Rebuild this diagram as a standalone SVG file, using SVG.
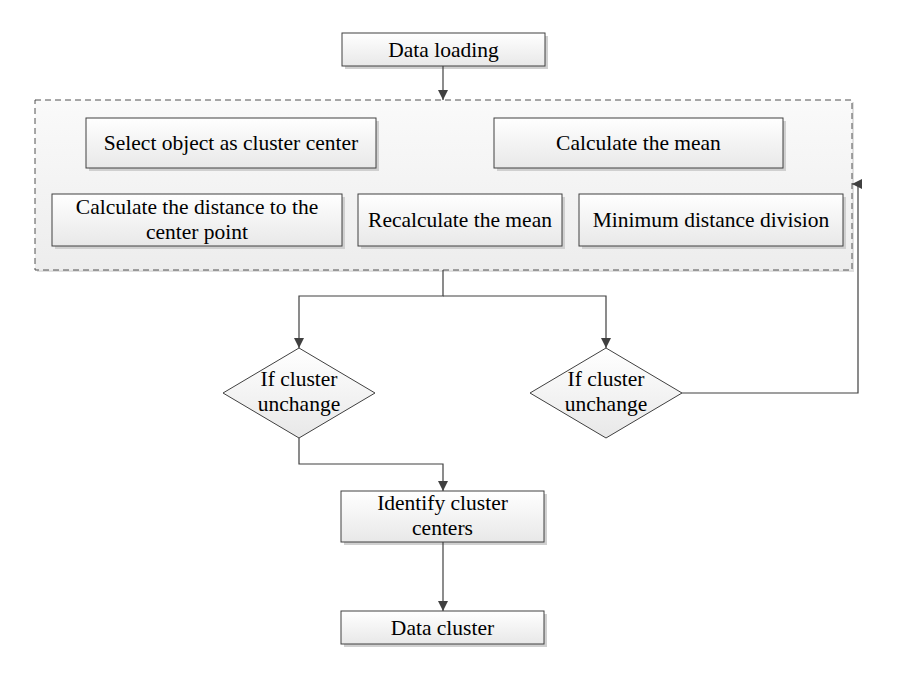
<svg xmlns="http://www.w3.org/2000/svg" width="914" height="700" viewBox="0 0 914 700">
<defs>
<linearGradient id="g" x1="0" y1="0" x2="0" y2="1">
<stop offset="0" stop-color="#ffffff"/>
<stop offset="1" stop-color="#e8e8e8"/>
</linearGradient>
<linearGradient id="gc" x1="0" y1="0" x2="0" y2="1">
<stop offset="0" stop-color="#fafafa"/>
<stop offset="1" stop-color="#ededed"/>
</linearGradient>
<marker id="arr" viewBox="0 0 10 10" refX="10" refY="5" markerWidth="10" markerHeight="10" markerUnits="userSpaceOnUse" orient="auto">
<path d="M0,0 L10,5 L0,10 z" fill="#404040"/>
</marker>
</defs>
<style>
.box{fill:url(#g);stroke:#404040;stroke-width:1}
.sh{fill:#d0d0d0}
.t{font-family:"Liberation Serif","Times New Roman",serif;font-size:21.5px;fill:#000;text-anchor:middle}
.c{fill:none;stroke:#404040;stroke-width:1.2}
</style>
<rect width="914" height="700" fill="#fff"/>
<g id="container">
<rect x="37" y="102" width="817" height="170" fill="#e0e0e0"/>
<rect x="35" y="100" width="817" height="170" fill="url(#gc)" stroke="#505050" stroke-width="1" stroke-dasharray="6,4"/>
</g>
<g id="n-data-loading">
<rect class="sh" x="345" y="36" width="203" height="33"/>
<rect class="box" x="342" y="33" width="203" height="33"/>
<text class="t" x="443.5" y="57">Data loading</text>
</g>
<g id="n-select">
<rect class="sh" x="89" y="121" width="290" height="50"/>
<rect class="box" x="86" y="118" width="290" height="50"/>
<text class="t" x="231" y="150">Select object as cluster center</text>
</g>
<g id="n-calc-mean">
<rect class="sh" x="497" y="121" width="289" height="50"/>
<rect class="box" x="494" y="118" width="289" height="50"/>
<text class="t" x="638.5" y="150">Calculate the mean</text>
</g>
<g id="n-calc-dist">
<rect class="sh" x="55" y="197" width="290" height="52"/>
<rect class="box" x="52" y="194" width="290" height="52"/>
<text class="t" x="197" y="214">Calculate the distance to the</text>
<text class="t" x="197" y="239">center point</text>
</g>
<g id="n-recalc">
<rect class="sh" x="361" y="197" width="204" height="52"/>
<rect class="box" x="358" y="194" width="204" height="52"/>
<text class="t" x="460" y="227">Recalculate the mean</text>
</g>
<g id="n-min">
<rect class="sh" x="582" y="197" width="264" height="52"/>
<rect class="box" x="579" y="194" width="264" height="52"/>
<text class="t" x="711" y="227">Minimum distance division</text>
</g>
<g id="n-if1">
<polygon class="box" points="299,348 375,393 299,438 223,393"/>
<text class="t" x="299" y="386">If cluster</text>
<text class="t" x="299" y="411">unchange</text>
</g>
<g id="n-if2">
<polygon class="box" points="606,348 682,393 606,438 530,393"/>
<text class="t" x="606" y="386">If cluster</text>
<text class="t" x="606" y="411">unchange</text>
</g>
<g id="n-identify">
<rect class="sh" x="344" y="494" width="203" height="51"/>
<rect class="box" x="341" y="491" width="203" height="51"/>
<text class="t" x="442.5" y="510">Identify cluster</text>
<text class="t" x="442.5" y="535">centers</text>
</g>
<g id="n-data-cluster">
<rect class="sh" x="344" y="614" width="203" height="33"/>
<rect class="box" x="341" y="611" width="203" height="33"/>
<text class="t" x="442.5" y="635">Data cluster</text>
</g>
<g id="connectors">
<path class="c" d="M443,66 V100" marker-end="url(#arr)"/>
<path class="c" d="M443,270 V296 H299 V348" marker-end="url(#arr)"/>
<path class="c" d="M443,296 H606 V348" marker-end="url(#arr)"/>
<path class="c" d="M682,393 H858 V184 H852" marker-end="url(#arr)"/>
<path class="c" d="M299,438 V464 H443 V491" marker-end="url(#arr)"/>
<path class="c" d="M443,542 V611" marker-end="url(#arr)"/>
</g>
</svg>
